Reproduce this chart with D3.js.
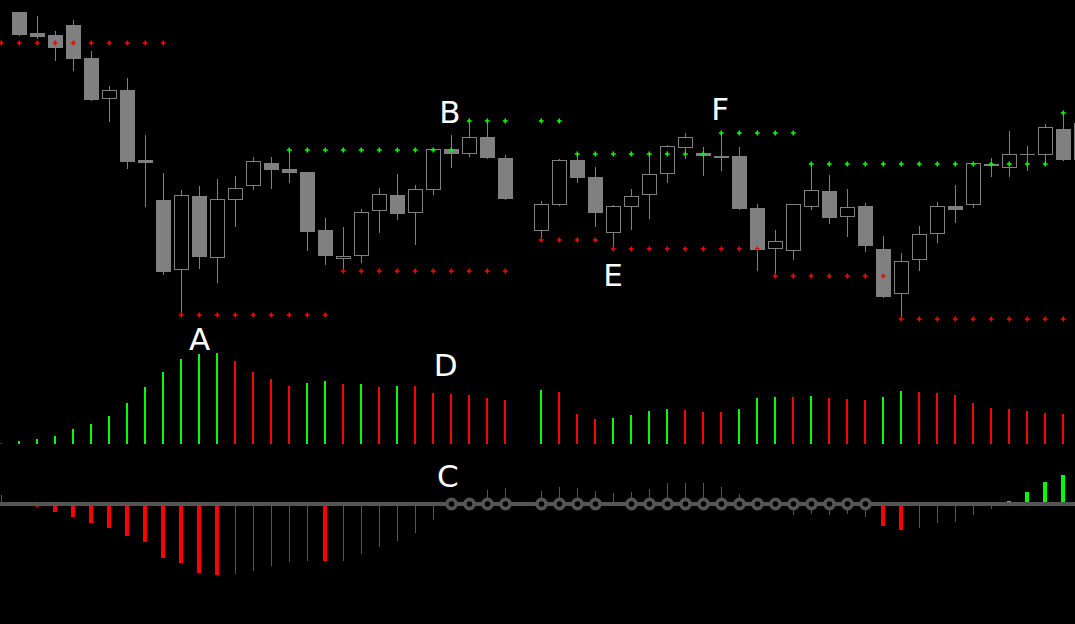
<!DOCTYPE html>
<html><head><meta charset="utf-8">
<script src="https://cdn.jsdelivr.net/npm/d3@7"></script>
<style>html,body{margin:0;padding:0;background:#000;overflow:hidden}</style>
</head><body><svg id="c" width="1075" height="624"></svg>
<script>
// slots run from -1 to 59 (one entry per slot); null = no bar
const slots = d3.range(-1, 60);

const open = [null,
1.1328,1.1307,1.1305,1.1315,1.1282,1.1241,1.1250,1.1180,1.1140,1.1070,
1.1144,1.1082,1.1140,1.1154,1.1177,1.1171,1.1168,1.1110,1.1081,1.1084,
1.1129,1.1145,1.1127,1.1150,1.1191,1.1186,1.1203,1.1182,null,1.1109,
1.1135,1.1180,1.1163,1.1107,1.1133,1.1145,1.1166,1.1192,1.1187,1.1184,
1.1184,1.1132,1.1091,1.1089,1.1133,1.1149,1.1123,1.1134,1.1091,1.1046,
1.1080,1.1106,1.1134,1.1135,1.1176,1.1172,1.1186,1.1185,1.1211,1.1217];
const high = [null,
1.1328,1.1324,1.1309,1.1320,1.1289,1.1254,1.1262,1.1205,1.1167,1.1150,
1.1154,1.1161,1.1164,1.1183,1.1183,1.1191,1.1168,1.1122,1.1113,1.1131,
1.1152,1.1166,1.1155,1.1191,1.1205,1.1219,1.1219,1.1185,null,1.1139,
1.1181,1.1187,1.1173,1.1135,1.1151,1.1187,1.1195,1.1207,1.1193,1.1207,
1.1193,1.1136,1.1110,1.1136,1.1177,1.1165,1.1151,1.1137,1.1104,1.1087,
1.1114,1.1138,1.1155,1.1177,1.1182,1.1209,1.1194,1.1216,1.1227,1.1222];
const low = [null,
1.1304,1.1301,1.1279,1.1269,1.1239,1.1218,1.1171,1.1133,1.1065,1.1027,
1.1071,1.1057,1.1113,1.1150,1.1151,1.1157,1.1089,1.1075,1.1070,1.1077,
1.1107,1.1120,1.1095,1.1145,1.1172,1.1183,1.1181,1.1140,null,1.1102,
1.1134,1.1157,1.1113,1.1092,1.1110,1.1121,1.1157,1.1181,1.1164,1.1169,
1.1130,1.1069,1.1065,1.1080,1.1130,1.1116,1.1103,1.1088,1.1042,1.1021,
1.1069,1.1097,1.1117,1.1132,1.1163,1.1163,1.1169,1.1176,1.1179,1.1178];
const close = [null,
1.1305,1.1303,1.1292,1.1281,1.1240,1.1250,1.1178,1.1177,1.1068,1.1145,
1.1083,1.1141,1.1152,1.1179,1.1170,1.1167,1.1108,1.1084,1.1084,1.1128,
1.1146,1.1126,1.1151,1.1191,1.1186,1.1203,1.1182,1.1141,null,1.1136,
1.1180,1.1162,1.1127,1.1134,1.1144,1.1166,1.1194,1.1203,1.1184,1.1182,
1.1131,1.1090,1.1099,1.1136,1.1150,1.1122,1.1133,1.1094,1.1043,1.1079,
1.1106,1.1134,1.1130,1.1177,1.1174,1.1186,1.1186,1.1213,1.1180,1.1180];

// support (red) and resistance (green) dotted levels
const support = [
1.1297,1.1297,1.1297,1.1297,1.1297,1.1297,1.1297,1.1297,1.1297,1.1297,
1.1025,1.1025,1.1025,1.1025,1.1025,1.1025,1.1025,1.1025,1.1025,
1.1069,1.1069,1.1069,1.1069,1.1069,1.1069,1.1069,1.1069,1.1069,1.1069,
null,
1.1100,1.1100,1.1100,1.1100,
1.1091,1.1091,1.1091,1.1091,1.1091,1.1091,1.1091,1.1091,1.1091,
1.1064,1.1064,1.1064,1.1064,1.1064,1.1064,1.1064,
1.1021,1.1021,1.1021,1.1021,1.1021,1.1021,1.1021,1.1021,1.1021,1.1021,
null];
const resistance = [
null,null,null,null,null,null,null,null,null,null,null,null,null,null,null,null,
1.1190,1.1190,1.1190,1.1190,1.1190,1.1190,1.1190,1.1190,1.1190,1.1190,
1.1219,1.1219,1.1219,
null,
1.1219,1.1219,
1.1186,1.1186,1.1186,1.1186,1.1186,1.1186,1.1186,1.1186,
1.1207,1.1207,1.1207,1.1207,1.1207,
1.1176,1.1176,1.1176,1.1176,1.1176,1.1176,1.1176,1.1176,1.1176,1.1176,1.1176,1.1176,1.1176,1.1176,
1.1227,
null];

// trend strength histogram (middle panel)
const trend = [0.7,
3,5,8,15,20,28,41,57,72,85,
90,91,83,72,65,58,61,63,60,60,
57,58,58,51,50,49,46,44,null,54,
52,30,25,26,29,33,35,34,32,32,
35,46,47,47,48,46,45,44,47,53,
52,51,49,41,36,35,33,31,30,null];
const trendDir = [-1,
1,1,1,1,1,1,1,1,1,1,
1,1,-1,-1,-1,-1,1,1,-1,1,
-1,1,-1,-1,-1,-1,-1,-1,0,1,
-1,-1,-1,1,1,1,1,-1,-1,-1,
1,1,1,-1,1,-1,-1,-1,1,1,
-1,-1,-1,-1,-1,-1,-1,-1,-1,0];

// momentum histogram (bottom panel)
const momentum = [9,
0,-2.7,-8,-13,-19,-24,-32,-38,-54,-59,
-69,-71,-70,-67,-62,-58,-57,-57,-57,-50,
-43,-37,-29,-16,2,4,14,16,null,13,
17,16,13,11,12,15,21,21,21,17,
10,4,-3,-11,-10,-11,-10,-13,-22,-26,
-24,-19,-18,-11,-5,3,12,22,29,null];
// 'r' red, 'g' green, 'n' neutral grey
const momColor = ['n',
'n','r','r','r','r','r','r','r','r','r',
'r','r','n','n','n','n','n','r','n','n',
'n','n','n','n','n','n','n','n','n','n',
'n','n','n','n','n','n','n','n','n','n',
'n','n','n','n','n','n','n','n','r','r',
'n','n','n','n','n','g','g','g','g','n'];
// squeeze dots on the zero line
const squeeze = [0,
0,0,0,0,0,0,0,0,0,0,
0,0,0,0,0,0,0,0,0,0,
0,0,0,0,1,1,1,1,0,1,
1,1,1,0,1,1,1,1,1,1,
1,1,1,1,1,1,1,1,0,0,
0,0,0,0,0,0,0,0,0,0];

// annotation letters
const labelText  = ['A','B','C','D','E','F'];
const labelSlot  = [10, 23.91, 23.8, 23.68, 32.97, 38.93];
const labelPanel = ['trend','price','mom','trend','price','price'];
const labelValue = [94.5, 1.12173, 17, 68.3, 1.10543, 1.1220];

const W = 1075, H = 624;
const svg = d3.select('#c');
svg.append('rect').attr('width', W).attr('height', H).attr('fill', '#000');

const x  = d3.scaleLinear().domain([-1, 59]).range([1.5, 1081.5]);
const yP = d3.scaleLinear().domain([1.1000, 1.1340]).range([340, 0]);
const yT = d3.scaleLinear().domain([0, 100]).range([444, 344]);
const yM = d3.scaleLinear().domain([-100, 100]).range([604, 404]);

const GREY = '#808080', DARK = '#555555', RED = '#ff0000', GREEN = '#00ff00';

const rows = slots.map((s, k) => ({
  s, o: open[k], h: high[k], l: low[k], c: close[k],
  sup: support[k], res: resistance[k],
  t: trend[k], td: trendDir[k],
  m: momentum[k], mc: momColor[k], sq: squeeze[k]
}));

// ---- candles
const gC = svg.append('g');
rows.filter(d => d.o != null).forEach(d => {
  const cx = x(d.s);
  gC.append('line')
    .attr('x1', cx).attr('x2', cx)
    .attr('y1', Math.round(yP(d.h))).attr('y2', Math.round(yP(d.l)))
    .attr('stroke', GREY).attr('stroke-width', 1);
  const top = Math.round(yP(Math.max(d.o, d.c)));
  const bot = Math.round(yP(Math.min(d.o, d.c)));
  const bear = d.c < d.o;
  if (bear || bot - top < 2) {
    gC.append('rect').attr('x', cx - 7.5).attr('y', top)
      .attr('width', 15).attr('height', Math.max(1, bot - top))
      .attr('fill', GREY);
  } else {
    gC.append('rect').attr('x', cx - 7).attr('y', top + 0.5)
      .attr('width', 14).attr('height', bot - top - 1)
      .attr('fill', '#000').attr('stroke', GREY).attr('stroke-width', 1);
  }
});

// ---- level markers
const cross = d3.symbol().type(d3.symbolCross).size(13);
const gL = svg.append('g');
gL.selectAll('path.sup').data(rows.filter(d => d.sup != null)).join('path')
  .attr('class', 'sup')
  .attr('d', cross).attr('fill', RED)
  .attr('transform', d => `translate(${x(d.s) - 0.2},${yP(d.sup)})`);
gL.selectAll('path.res').data(rows.filter(d => d.res != null)).join('path')
  .attr('class', 'res')
  .attr('d', cross).attr('fill', GREEN)
  .attr('transform', d => `translate(${x(d.s) - 0.2},${yP(d.res)})`);

// ---- trend histogram
svg.append('g').selectAll('rect').data(rows.filter(d => d.t != null)).join('rect')
  .attr('x', d => Math.floor(x(d.s)) - 1).attr('width', 2)
  .attr('y', d => yT(d.t)).attr('height', d => yT(0) - yT(d.t))
  .attr('fill', d => d.td > 0 ? GREEN : RED);

// ---- momentum histogram
const gM = svg.append('g');
rows.filter(d => d.m != null && d.m !== 0).forEach(d => {
  const thick = d.mc !== 'n';
  const y0 = yM(0), y1 = yM(d.m);
  gM.append('rect')
    .attr('x', thick ? Math.floor(x(d.s)) - 2 : Math.floor(x(d.s)))
    .attr('width', thick ? 4 : 1)
    .attr('y', Math.min(y0, y1)).attr('height', Math.abs(y1 - y0))
    .attr('fill', d.mc === 'r' ? RED : d.mc === 'g' ? GREEN : DARK);
});
gM.append('rect').attr('x', 0).attr('width', W)
  .attr('y', yM(0) - 2).attr('height', 4).attr('fill', DARK);
gM.selectAll('circle').data(rows.filter(d => d.sq)).join('circle')
  .attr('cx', d => x(d.s)).attr('cy', yM(0)).attr('r', 4.6)
  .attr('fill', '#000').attr('stroke', DARK).attr('stroke-width', 3.6);

// ---- letters
const panelScale = { price: yP, trend: yT, mom: yM };
svg.append('g').selectAll('text').data(labelText).join('text')
  .attr('x', (t, k) => x(labelSlot[k]))
  .attr('y', (t, k) => panelScale[labelPanel[k]](labelValue[k]))
  .attr('text-anchor', 'middle')
  .attr('font-family', 'DejaVu Sans')
  .attr('font-size', 31)
  .attr('fill', '#ffffff')
  .text(t => t);
</script>
</body></html>
